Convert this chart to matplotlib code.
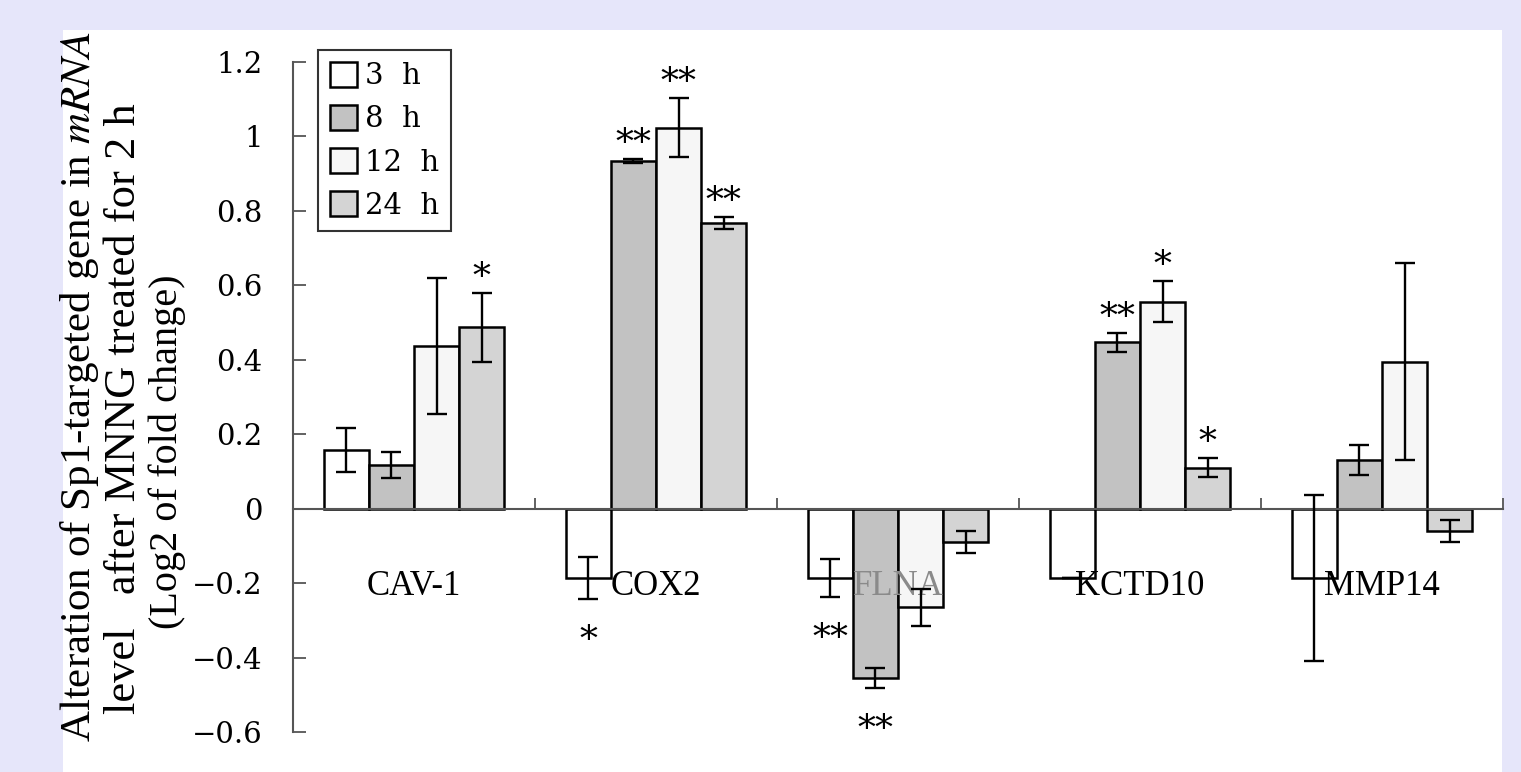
import numpy as np
import matplotlib
matplotlib.use('Agg')
import matplotlib.pyplot as plt
from matplotlib.patches import Rectangle

# data
genes = ['CAV-1', 'COX2', 'FLNA', 'KCTD10', 'MMP14']
times = ['3 h', '8 h', '12 h', '24 h']

val_3h = [0.158, -0.186, -0.186, -0.186, -0.186]
val_8h = [0.117, 0.935, -0.454, 0.447, 0.130]
val_12h = [0.438, 1.024, -0.265, 0.556, 0.395]
val_24h = [0.487, 0.768, -0.090, 0.110, -0.060]

err_3h = [0.060, 0.056, 0.050, 0.0, 0.224]
err_8h = [0.035, 0.005, 0.027, 0.025, 0.040]
err_12h = [0.183, 0.080, 0.050, 0.055, 0.265]
err_24h = [0.093, 0.016, 0.030, 0.025, 0.030]

stars_3h = ['', '*', '**', '', '']
stars_8h = ['', '**', '**', '**', '']
stars_12h = ['', '**', '', '*', '']
stars_24h = ['*', '**', '', '*', '']

colors = ['#ffffff', '#c2c2c2', '#f6f6f6', '#d4d4d4']

values = [val_3h, val_8h, val_12h, val_24h]
errors = [err_3h, err_8h, err_12h, err_24h]
stars = [stars_3h, stars_8h, stars_12h, stars_24h]

plt.rcParams['mathtext.fontset'] = 'stix'

W, H = 1521, 772
fig = plt.figure(figsize=(W / 100, H / 100), dpi=100, facecolor='#e6e6fa')
fig.patches.append(Rectangle((63 / W, 0), (1502 - 63) / W, (H - 30) / H,
                             transform=fig.transFigure, facecolor='white',
                             edgecolor='none', zorder=-10))

ax = fig.add_axes([293 / W, (H - 732) / H, (1503 - 293) / W, (732 - 62) / H])
ax.set_facecolor('none')
ax.set_zorder(5)

x = np.arange(len(genes)) + 0.5
width = 0.186
for j in range(4):
    pos = x + (j - 1.5) * width
    ax.bar(pos, values[j], width, color=colors[j], edgecolor='black',
           linewidth=1.8, label=times[j], zorder=1)
    ax.errorbar(pos, values[j], yerr=errors[j], fmt='none', ecolor='black',
                elinewidth=1.7, capsize=7, capthick=1.7, zorder=3)
    for i in range(len(genes)):
        s = stars[j][i]
        if not s:
            continue
        v = values[j][i]
        if v >= 0:
            ax.text(pos[i], v + errors[j][i] - 0.005, s, ha='center', va='bottom',
                    fontsize=26, family='DejaVu Serif')
        else:
            ax.text(pos[i], v - errors[j][i] - 0.068, s, ha='center', va='top',
                    fontsize=26, family='DejaVu Serif')

ax.set_xlim(0, 5)
ax.set_ylim(-0.6, 1.2)
ax.spines['top'].set_visible(False)
ax.spines['right'].set_visible(False)
ax.spines['bottom'].set_position(('data', 0))
for sp in ['left', 'bottom']:
    ax.spines[sp].set_color('#555555')
    ax.spines[sp].set_linewidth(1.5)

yt = np.round(np.arange(-0.6, 1.21, 0.2), 1)
ax.set_yticks(yt)
ax.set_yticklabels(['0' if v == 0 else ('1' if v == 1 else f'{v:.1f}'.replace('-', '\u2212')) for v in yt],
                   family='DejaVu Serif', fontsize=21)
ax.tick_params(axis='y', direction='in', length=9, width=1.3, color='#555555', pad=22)

ax.set_xticks(np.arange(1, 6))
ax.set_xticklabels([])
ax.set_xticks(x, minor=True)
ax.set_xticklabels(genes, minor=True, family='Liberation Serif', fontsize=25)
ax.tick_params(axis='x', which='major', direction='in', length=8, width=1.3, color='#555555')
ax.tick_params(axis='x', which='minor', length=0, pad=44)
ax.get_xticklabels(minor=True)[2].set_color('#8a8a8a')

leg = ax.legend(loc='upper left', bbox_to_anchor=(0.0207, 1.018), borderaxespad=0,
                prop={'family': 'DejaVu Serif', 'size': 21}, handlelength=0.95,
                handleheight=0.95, handletextpad=0.25, labelspacing=0.5,
                fancybox=False, framealpha=1, borderpad=0.4)
leg.get_frame().set_edgecolor('#333333')
leg.get_frame().set_linewidth(1.5)
for t in leg.get_texts():
    t.set_text(t.get_text().replace(' ', '  '))

lab = dict(rotation=90, ha='center', family='Liberation Serif')
fig.text(80 / W, 1 - 32 / H, r'Alteration of Sp1-targeted gene in $\mathit{mRNA}$',
         va='top', fontsize=31, **lab)
fig.text(124 / W, 1 - 409 / H, 'level   after MNNG treated for 2 h', va='center',
         fontsize=32, **lab)
fig.text(167 / W, 1 - 452 / H, '(Log2 of fold change)', va='center', fontsize=29, **lab)

fig.savefig('out.png', dpi=100, facecolor=fig.get_facecolor())
